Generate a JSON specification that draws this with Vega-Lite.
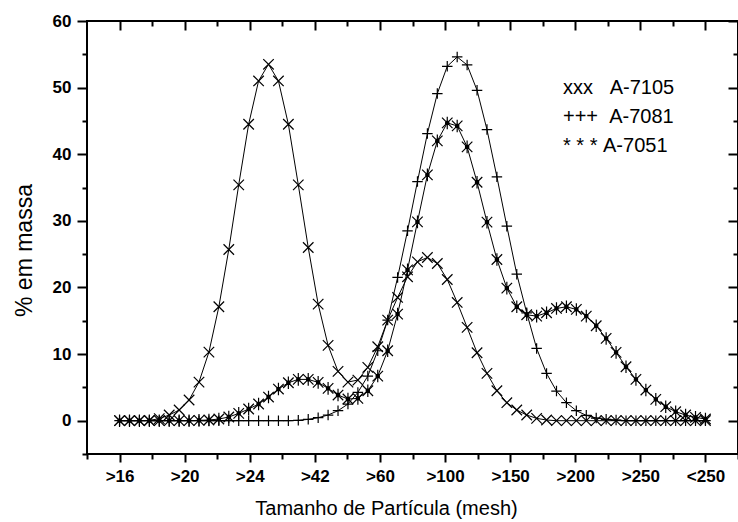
{
  "$schema": "https://vega.github.io/schema/vega-lite/v6.json",
  "width": 651,
  "height": 433,
  "autosize": {"type": "none"},
  "padding": {"left": 87, "top": 21, "right": 0, "bottom": 68},
  "background": "white",
  "config": {
    "view": {"stroke": "black", "strokeWidth": 2},
    "font": "Liberation Sans",
    "axis": {
      "labelFont": "Liberation Sans",
      "titleFont": "Liberation Sans",
      "labelColor": "black",
      "titleColor": "black",
      "tickColor": "black",
      "titleFontWeight": "normal",
      "labelFontWeight": "bold",
      "grid": false,
      "domain": false,
      "tickWidth": 2
    }
  },
  "data": {
    "values": [
      {"i": 0, "A-7105": 0, "A-7081": 0, "A-7051": 0},
      {"i": 1, "A-7105": 0, "A-7081": 0, "A-7051": 0},
      {"i": 2, "A-7105": 0, "A-7081": 0, "A-7051": 0},
      {"i": 3, "A-7105": 0.05, "A-7081": 0, "A-7051": 0},
      {"i": 4, "A-7105": 0.3, "A-7081": 0, "A-7051": 0},
      {"i": 5, "A-7105": 0.85, "A-7081": 0, "A-7051": 0},
      {"i": 6, "A-7105": 1.6, "A-7081": 0, "A-7051": 0},
      {"i": 7, "A-7105": 3.1, "A-7081": 0, "A-7051": 0},
      {"i": 8, "A-7105": 5.8, "A-7081": 0, "A-7051": 0.05},
      {"i": 9, "A-7105": 10.3, "A-7081": 0, "A-7051": 0.1},
      {"i": 10, "A-7105": 17.1, "A-7081": 0, "A-7051": 0.25},
      {"i": 11, "A-7105": 25.7, "A-7081": 0, "A-7051": 0.55},
      {"i": 12, "A-7105": 35.4, "A-7081": 0, "A-7051": 1.1},
      {"i": 13, "A-7105": 44.5, "A-7081": 0, "A-7051": 1.75},
      {"i": 14, "A-7105": 51.0, "A-7081": 0, "A-7051": 2.5},
      {"i": 15, "A-7105": 53.5, "A-7081": 0, "A-7051": 3.55},
      {"i": 16, "A-7105": 51.0, "A-7081": 0, "A-7051": 4.75},
      {"i": 17, "A-7105": 44.5, "A-7081": 0, "A-7051": 5.7},
      {"i": 18, "A-7105": 35.4, "A-7081": 0.05, "A-7051": 6.2},
      {"i": 19, "A-7105": 26.0, "A-7081": 0.2, "A-7051": 6.2},
      {"i": 20, "A-7105": 17.5, "A-7081": 0.45, "A-7051": 5.75},
      {"i": 21, "A-7105": 11.3, "A-7081": 0.85, "A-7051": 4.85},
      {"i": 22, "A-7105": 7.4, "A-7081": 1.5, "A-7051": 3.85},
      {"i": 23, "A-7105": 5.8, "A-7081": 2.5, "A-7051": 3.25},
      {"i": 24, "A-7105": 6.1, "A-7081": 4.25, "A-7051": 3.35},
      {"i": 25, "A-7105": 8.0, "A-7081": 6.7, "A-7051": 4.5},
      {"i": 26, "A-7105": 11.1, "A-7081": 10.5, "A-7051": 6.7},
      {"i": 27, "A-7105": 15.1, "A-7081": 15.1, "A-7051": 10.5},
      {"i": 28, "A-7105": 18.5, "A-7081": 21.5, "A-7051": 16.0},
      {"i": 29, "A-7105": 21.6, "A-7081": 28.5, "A-7051": 22.65},
      {"i": 30, "A-7105": 23.85, "A-7081": 35.9, "A-7051": 29.85},
      {"i": 31, "A-7105": 24.5, "A-7081": 43.1, "A-7051": 36.9},
      {"i": 32, "A-7105": 23.6, "A-7081": 49.1, "A-7051": 42.0},
      {"i": 33, "A-7105": 21.2, "A-7081": 53.2, "A-7051": 44.7},
      {"i": 34, "A-7105": 17.75, "A-7081": 54.6, "A-7051": 44.25},
      {"i": 35, "A-7105": 14.0, "A-7081": 53.4, "A-7051": 41.1},
      {"i": 36, "A-7105": 10.2, "A-7081": 49.6, "A-7051": 35.8},
      {"i": 37, "A-7105": 7.1, "A-7081": 43.7, "A-7051": 29.8},
      {"i": 38, "A-7105": 4.5, "A-7081": 36.6, "A-7051": 24.2},
      {"i": 39, "A-7105": 2.7, "A-7081": 29.2, "A-7051": 19.9},
      {"i": 40, "A-7105": 1.6, "A-7081": 22.0, "A-7051": 17.1},
      {"i": 41, "A-7105": 0.85, "A-7081": 16.2, "A-7051": 15.9},
      {"i": 42, "A-7105": 0.35, "A-7081": 10.85, "A-7051": 15.7},
      {"i": 43, "A-7105": 0.1, "A-7081": 7.1, "A-7051": 16.2},
      {"i": 44, "A-7105": 0, "A-7081": 4.45, "A-7051": 16.85},
      {"i": 45, "A-7105": 0, "A-7081": 2.7, "A-7051": 17.1},
      {"i": 46, "A-7105": 0, "A-7081": 1.5, "A-7051": 16.7},
      {"i": 47, "A-7105": 0, "A-7081": 0.8, "A-7051": 15.7},
      {"i": 48, "A-7105": 0, "A-7081": 0.4, "A-7051": 14.25},
      {"i": 49, "A-7105": 0, "A-7081": 0.2, "A-7051": 12.35},
      {"i": 50, "A-7105": 0, "A-7081": 0.1, "A-7051": 10.25},
      {"i": 51, "A-7105": 0, "A-7081": 0, "A-7051": 8.1},
      {"i": 52, "A-7105": 0, "A-7081": 0, "A-7051": 6.2},
      {"i": 53, "A-7105": 0, "A-7081": 0, "A-7051": 4.6},
      {"i": 54, "A-7105": 0, "A-7081": 0, "A-7051": 3.2},
      {"i": 55, "A-7105": 0, "A-7081": 0, "A-7051": 2.1},
      {"i": 56, "A-7105": 0, "A-7081": 0, "A-7051": 1.35},
      {"i": 57, "A-7105": 0, "A-7081": 0, "A-7051": 0.85},
      {"i": 58, "A-7105": 0, "A-7081": 0, "A-7051": 0.5},
      {"i": 59, "A-7105": 0, "A-7081": 0, "A-7051": 0.25}
    ]
  },
  "transform": [{"fold": ["A-7105", "A-7081", "A-7051"], "as": ["series", "v"]}],
  "layer": [
    {
      "mark": {"type": "line", "color": "black", "strokeWidth": 1},
      "encoding": {
        "x": {
          "field": "i", "type": "quantitative",
          "scale": {"domain": [-3.27778, 62.27778], "nice": false, "zero": false},
          "axis": {
            "orient": "bottom",
            "values": [0, 6.55556, 13.11111, 19.66667, 26.22222, 32.77778, 39.33333, 45.88889, 52.44444, 59],
            "labelExpr": "['>16','>20','>24','>42','>60','>100','>150','>200','>250','<250'][round(datum.value*9/59)]",
            "tickSize": 8,
            "labelFontSize": 17,
            "labelPadding": 6,
            "title": "Tamanho de Partícula (mesh)",
            "titleFontSize": 20,
            "titlePadding": 14,
            "titleX": 299
          }
        },
        "y": {
          "field": "v", "type": "quantitative",
          "scale": {"domain": [-5, 60], "nice": false, "zero": false},
          "axis": {
            "orient": "left",
            "values": [0, 10, 20, 30, 40, 50, 60],
            "tickSize": 10,
            "labelFontSize": 17,
            "labelPadding": 6,
            "title": "% em massa",
            "titleFontSize": 23,
            "titlePadding": 16,
            "titleY": 229
          }
        },
        "detail": {"field": "series"}
      }
    },
    {
      "mark": {"type": "point", "fill": "black", "stroke": "black", "strokeWidth": 1.2, "opacity": 1, "fillOpacity": 1, "size": 110},
      "encoding": {
        "x": {
          "field": "i", "type": "quantitative",
          "scale": {"domain": [-3.27778, 62.27778], "nice": false, "zero": false},
          "axis": {"orient": "bottom", "values": [-3.27778, 3.27778, 9.83333, 16.38889, 22.94444, 29.5, 36.05556, 42.61111, 49.16667, 55.72222, 62.27778], "tickSize": 5, "labels": false, "title": null}
        },
        "y": {
          "field": "v", "type": "quantitative",
          "scale": {"domain": [-5, 60], "nice": false, "zero": false},
          "axis": {"orient": "left", "values": [-5, 5, 15, 25, 35, 45, 55], "tickSize": 5, "labels": false, "title": null}
        },
        "shape": {
          "field": "series", "type": "nominal",
          "scale": {
            "domain": ["A-7105", "A-7081", "A-7051"],
            "range": ["M-1,-1L1,1M-1,1L1,-1", "M-1,0L1,0M0,-1L0,1", "M-1,-1L1,1M-1,1L1,-1M0,-1.2L0,1.2M-0.3,-0.3L0.3,-0.3L0.3,0.3L-0.3,0.3Z"]
          },
          "legend": {
            "orient": "none",
            "legendX": 456,
            "legendY": 57,
            "title": null,
            "symbolSize": 0,
            "symbolOpacity": 0,
            "symbolStrokeWidth": 0,
            "labelOffset": 0,
            "labelFont": "Liberation Sans",
            "labelFontSize": 20,
            "labelColor": "black",
            "rowPadding": 9,
            "labelExpr": "datum.label == 'A-7105' ? 'xxx\u00a0\u00a0\u00a0A-7105' : datum.label == 'A-7081' ? '+++\u00a0\u00a0A-7081' : '*\u00a0*\u00a0*\u00a0A-7051'"
          }
        }
      }
    },
    {
      "mark": {"type": "point", "opacity": 0},
      "encoding": {
        "x": {
          "field": "i", "type": "quantitative",
          "scale": {"domain": [-3.27778, 62.27778], "nice": false, "zero": false},
          "axis": {"orient": "top", "offset": -9, "values": [0, 6.55556, 13.11111, 19.66667, 26.22222, 32.77778, 39.33333, 45.88889, 52.44444, 59], "tickSize": 9, "labels": false, "title": null}
        },
        "y": {
          "field": "v", "type": "quantitative",
          "scale": {"domain": [-5, 60], "nice": false, "zero": false},
          "axis": {"orient": "right", "offset": -10, "values": [0, 10, 20, 30, 40, 50, 60], "tickSize": 10, "labels": false, "title": null}
        }
      }
    },
    {
      "mark": {"type": "point", "opacity": 0},
      "encoding": {
        "x": {
          "field": "i", "type": "quantitative",
          "scale": {"domain": [-3.27778, 62.27778], "nice": false, "zero": false},
          "axis": {"orient": "top", "offset": -5, "values": [3.27778, 9.83333, 16.38889, 22.94444, 29.5, 36.05556, 42.61111, 49.16667, 55.72222], "tickSize": 5, "labels": false, "title": null}
        },
        "y": {
          "field": "v", "type": "quantitative",
          "scale": {"domain": [-5, 60], "nice": false, "zero": false},
          "axis": {"orient": "right", "offset": -5, "values": [5, 15, 25, 35, 45, 55], "tickSize": 5, "labels": false, "title": null}
        }
      }
    }
  ],
  "resolve": {"axis": {"x": "independent", "y": "independent"}}
}
